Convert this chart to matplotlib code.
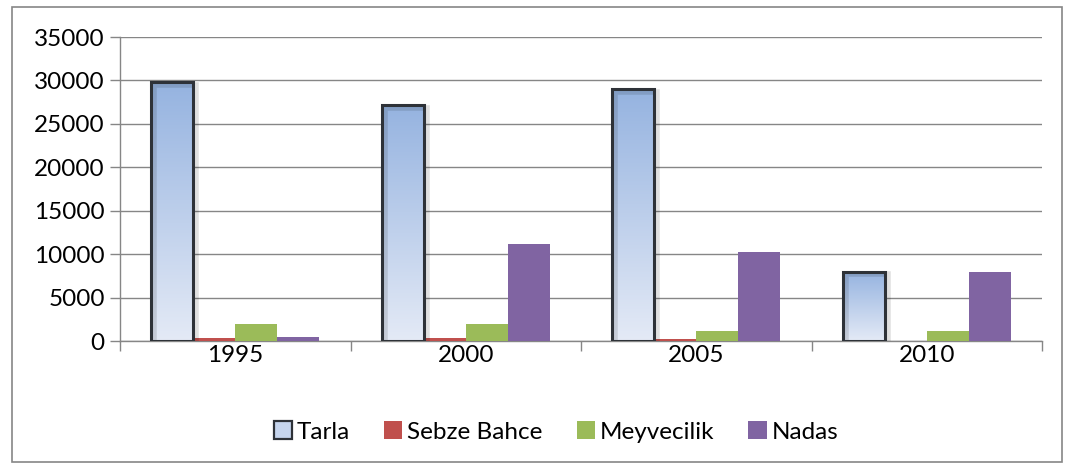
import numpy as np
import matplotlib
matplotlib.use("Agg")
import matplotlib.pyplot as plt
from matplotlib.patches import Rectangle
from matplotlib.colors import LinearSegmentedColormap
import matplotlib.patheffects as pe

years = ["1995", "2000", "2005", "2010"]
series_names = ["Tarla", "Sebze Bahce", "Meyvecilik", "Nadas"]
tarla = [29800, 27200, 29000, 8000]
sebze = [400, 400, 200, 0]
meyve = [2000, 2000, 1100, 1100]
nadas = [500, 11200, 10200, 7900]
yticks = [0, 5000, 10000, 15000, 20000, 25000, 30000, 35000]

colors = [None, "#c0504d", "#9bbb59", "#8064a2"]
plt.rcParams["font.family"] = ["Lato", "DejaVu Sans"]
FS = 17.5

fig = plt.figure(figsize=(10.74, 4.70), dpi=100)
# outer chart frame
fig.patches.append(Rectangle((12 / 1074, 1 - 462 / 470), 1050 / 1074, 455 / 470,
                             transform=fig.transFigure, fill=False,
                             edgecolor="#868686", lw=1.2))
ax = fig.add_axes([120 / 1074, 1 - 341 / 470, 922 / 1074, 304 / 470])

x = np.arange(len(years))
w = 0.182
offsets = np.array([-1.5, -0.5, 0.5, 1.5]) * w
data = [tarla, sebze, meyve, nadas]

grad = LinearSegmentedColormap.from_list("g", ["#e4eaf6", "#95b3e0"])
gimg = np.linspace(0, 1, 256).reshape(-1, 1)

handles = []
for i, (vals, col) in enumerate(zip(data, colors)):
    if i == 0:
        bars = ax.bar(x + offsets[i], vals, w, facecolor="none",
                      edgecolor="#2e3238", lw=2.2, zorder=4,
                      path_effects=[pe.SimpleLineShadow(offset=(2, -2),
                                                        shadow_color="#000000",
                                                        alpha=0.12, linewidth=4),
                                    pe.Normal()])
        for b in bars:
            ax.imshow(gimg, cmap=grad, origin="lower", aspect="auto",
                      extent=(b.get_x(), b.get_x() + b.get_width(), 0, b.get_height()),
                      zorder=3)
        handles.append(Rectangle((0, 0), 1, 1, facecolor="#c6d5ee",
                                 edgecolor="#2e3238", lw=1.6))
    else:
        bars = ax.bar(x + offsets[i], vals, w, color=col, zorder=3)
        handles.append(Rectangle((0, 0), 1, 1, facecolor=col))

ax.set_xlim(-0.5, len(years) - 0.5)
ax.set_ylim(0, 35000)
ax.set_yticks(yticks)
ax.set_yticklabels([str(v) for v in yticks])
ax.yaxis.grid(True, color="#868686", lw=1.0, zorder=0)
ax.set_axisbelow(True)

ax.set_xticks(x)
ax.set_xticklabels(years)
ax.set_xticks(np.arange(len(years) + 1) - 0.5, minor=True)
ax.tick_params(axis="x", which="major", length=0, pad=3, labelsize=FS)
ax.tick_params(axis="x", which="minor", length=7, color="#868686", width=1)
ax.tick_params(axis="y", length=7, color="#868686", width=1, pad=4, labelsize=FS)

for s in ["top", "right"]:
    ax.spines[s].set_visible(False)
for s in ["left", "bottom"]:
    ax.spines[s].set_color("#868686")
    ax.spines[s].set_linewidth(1.0)

fig.legend(handles, series_names, loc="center", bbox_to_anchor=(556 / 1074, 1 - 432 / 470),
           ncol=4, frameon=False, fontsize=FS, handlelength=0.75, handleheight=0.75,
           handletextpad=0.2, columnspacing=1.4)

fig.savefig("out.png", dpi=100)
